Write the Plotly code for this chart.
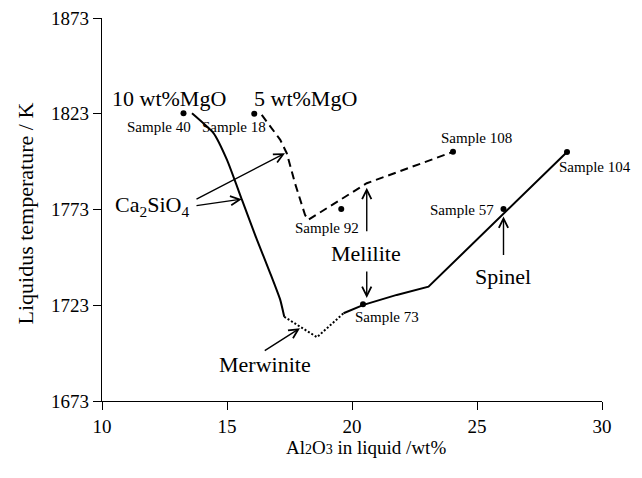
import plotly.graph_objects as go

# ---- data ----
sample_names = ["Sample 40", "Sample 18", "Sample 92", "Sample 108", "Sample 104", "Sample 57", "Sample 73"]
sample_al2o3 = [13.26, 16.09, 19.57, 24.04, 28.60, 26.06, 20.44]
sample_temp = [1823.3, 1823.0, 1773.3, 1803.1, 1803.0, 1773.2, 1723.5]

# 10 wt% MgO liquidus (Ca2SiO4 field, solid)
mgo10_c2s_x = [13.60, 14.46, 15.00, 15.60, 16.20, 16.73, 17.13, 17.29]
mgo10_c2s_y = [1823.3, 1812.9, 1798.9, 1778.0, 1757.1, 1739.7, 1725.8, 1717.0]
# merwinite field (dotted)
mgo10_merw_x = [17.29, 18.60, 19.66]
mgo10_merw_y = [1717.0, 1706.3, 1718.8]
# melilite + spinel fields (solid)
mgo10_mel_x = [19.66, 20.46, 21.79, 23.06, 28.60]
mgo10_mel_y = [1718.8, 1723.2, 1728.4, 1732.7, 1803.0]
# 5 wt% MgO liquidus (dashed)
mgo5_x = [16.39, 17.13, 17.39, 17.72, 18.12, 18.25, 20.59, 24.04]
mgo5_y = [1822.4, 1809.4, 1802.4, 1786.7, 1770.2, 1767.6, 1786.7, 1803.1]

x_ticks = [10, 15, 20, 25, 30]
y_ticks = [1673, 1723, 1773, 1823, 1873]

FONT = "Liberation Serif, Times New Roman, serif"

fig = go.Figure()
line_w = 2
fig.add_trace(go.Scatter(x=mgo10_c2s_x, y=mgo10_c2s_y, mode="lines",
                         line=dict(color="black", width=line_w, shape="spline", smoothing=0.5)))
fig.add_trace(go.Scatter(x=mgo10_merw_x, y=mgo10_merw_y, mode="lines",
                         line=dict(color="black", width=line_w, dash="2px,2px")))
fig.add_trace(go.Scatter(x=mgo10_mel_x, y=mgo10_mel_y, mode="lines",
                         line=dict(color="black", width=line_w)))
fig.add_trace(go.Scatter(x=mgo5_x, y=mgo5_y, mode="lines",
                         line=dict(color="black", width=line_w, dash="8px,5px")))
fig.add_trace(go.Scatter(x=sample_al2o3, y=sample_temp, mode="markers",
                         marker=dict(color="black", size=6)))

annotations = []

def txt(x, y, s, size):
    annotations.append(dict(x=x, y=y, xref="x", yref="y", text=s, showarrow=False,
                            font=dict(family=FONT, size=size, color="black"),
                            xanchor="center", yanchor="middle"))

def arrow(hx, hy, tx, ty):
    annotations.append(dict(x=hx, y=hy, ax=tx, ay=ty, xref="x", yref="y",
                            axref="x", ayref="y", text="", showarrow=True,
                            arrowhead=5, arrowsize=1.3, arrowwidth=1.4,
                            arrowcolor="black"))

# sample labels
label_pos = [(12.28, 1816.2), (15.29, 1816.2), (18.99, 1763.4), (24.96, 1810.3),
             (29.70, 1795.4), (24.40, 1772.8), (21.40, 1716.9)]
for name, (lx, ly) in zip(sample_names, label_pos):
    txt(lx, ly, name, 15)

txt(12.69, 1830.8, "10 wt%MgO", 22)
txt(18.12, 1830.8, "5 wt%MgO", 22)
txt(12.0, 1775.0, "Ca<sub>2</sub>SiO<sub>4</sub>", 22)
txt(20.56, 1749.8, "Melilite", 22)
txt(26.02, 1737.8, "Spinel", 22)
txt(16.52, 1692.3, "Merwinite", 22)

arrow(17.32, 1802.4, 13.72, 1778.0)
arrow(15.59, 1778.4, 13.72, 1774.9)
arrow(20.59, 1784.3, 20.59, 1760.8)
arrow(20.59, 1726.8, 20.59, 1741.4)
arrow(26.06, 1769.3, 26.06, 1748.4)
arrow(17.92, 1711.0, 16.45, 1698.8)

# axis titles
annotations.append(dict(x=0.528, y=0, xref="paper", yref="paper", yshift=-46,
                        text='Al<span style="font-size:14px">2</span>O<span style="font-size:14px">3</span> in liquid /wt%',
                        showarrow=False, xanchor="center", yanchor="middle",
                        font=dict(family=FONT, size=19, color="black")))
annotations.append(dict(x=0, y=0.5, xref="paper", yref="paper", xshift=-77, yshift=-4,
                        text="Liquidus temperature / K", textangle=-90,
                        showarrow=False, xanchor="center", yanchor="middle",
                        font=dict(family=FONT, size=22, color="black")))

axis_common = dict(showgrid=False, zeroline=False, showline=True, linecolor="black",
                   linewidth=1.2, ticks="outside", ticklen=8, tickcolor="black",
                   tickwidth=1.2, tickfont=dict(family=FONT, size=19, color="black"),
                   mirror=False, automargin=False, ticklabeloverflow="allow")

# page body has an 8px margin, so the figure is 8px smaller and shifted
fig.update_layout(
    template="none",
    width=634, height=470,
    margin=dict(l=94, r=40, t=10, b=77),
    paper_bgcolor="white", plot_bgcolor="white",
    showlegend=False,
    xaxis=dict(range=[10, 30], tickvals=x_ticks, ticktext=[str(v) for v in x_ticks], **axis_common),
    yaxis=dict(range=[1673, 1873], tickvals=y_ticks, ticktext=[str(v) for v in y_ticks], **axis_common),
    annotations=annotations,
)

fig.write_html("out.html")
